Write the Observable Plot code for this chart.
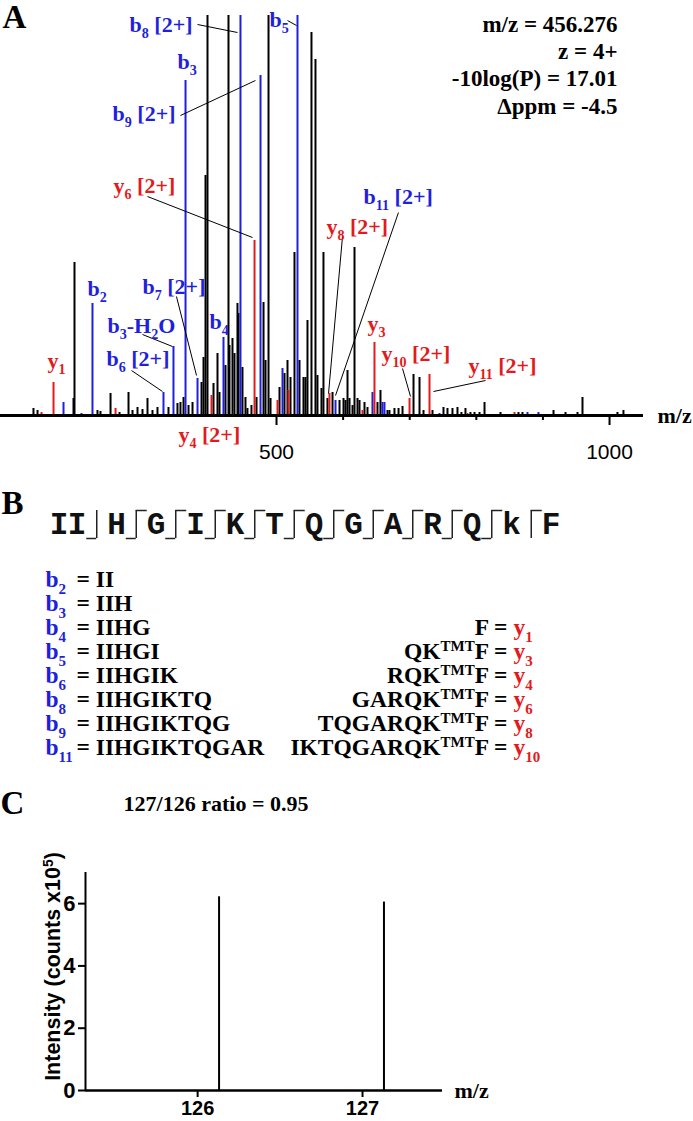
<!DOCTYPE html>
<html><head><meta charset="utf-8">
<script src="https://cdn.jsdelivr.net/npm/d3@7"></script>
<script src="https://cdn.jsdelivr.net/npm/@observablehq/plot@0.6"></script>
<style>
body{margin:0;background:#fff;}
#root{position:relative;width:693px;height:1121px;overflow:hidden;background:#fff;}
#root svg{position:absolute;left:0;overflow:visible;}
</style></head><body><div id="root"></div>
<script>
// ---------------- DATA ----------------
// Panel A: MS/MS spectrum (m/z, relative intensity %)
const otherMz = [135.1,141.2,195.2,196.7,231.2,235.7,250.8,264.3,277.8,283.8,291.3,298.8,306.3,313.8,321.3,337.8,351.3,355.8,360.4,367.9,373.9,387.4,390.4,393.4,396.4,405.4,411.4,414.4,423.4,427.9,429.4,433.9,436.9,441.4,442.9,448.9,453.4,456.4,462.4,470.0,480.5,483.5,488.0,491.0,504.5,512.0,516.5,521.0,527.0,534.5,540.5,543.5,546.5,552.5,558.5,561.5,567.5,570.5,576.5,584.1,594.6,600.6,603.6,606.6,609.6,614.1,617.1,621.6,624.6,632.1,636.6,651.6,656.1,666.6,669.6,677.1,683.2,689.2,705.7,714.7,720.7,734.2,750.7,756.7,764.2,771.7,777.7,783.7,791.2,797.3,804.8,812.3,836.3,863.3,869.3,915.9,933.9,951.9,959.4,1011.9,1020.9];
const otherInt = [1.75,1.25,4.25,38.25,1.25,1,5.5,0.75,5.75,1.25,2,1.5,4.25,1.25,2,2,3,3.25,4.5,2.5,3.25,8.25,14.5,60,100,8,15.5,5.75,12.5,100,17.5,19.25,15.5,28,25.5,12,4.5,1.75,2.5,4.5,28.25,13.75,100,4.25,7,10.5,13.75,9.5,40.75,13.75,9.5,9.5,23.75,95.75,89,10,6.75,40.75,4.25,5.75,3.75,4.25,3.75,11.25,4.25,2.5,42,4.25,3.75,3.25,2,3.25,6.25,1.25,1.25,1.75,1.75,2.25,10.25,9.5,1.25,1.25,2,1.75,1.75,2,0.75,1.75,0.75,0.75,0.75,3.25,0.75,0.75,0.75,1.25,0.75,0.75,4.5,0.75,1.25];
const bIonMz  = [180.2,207.2,223.7,330.3,345.3,363.4,381.4,420.4,445.9,476.0,509.0,531.5,588.6,644.1,659.1,662.1,744.7,876.8,893.3];
const bIonInt = [3.25,0.5,28,5.75,17.25,83.75,9.25,19.5,100,85,11.75,100,3.75,5.75,3.25,3.25,0.5,0.75,0.75];
const yIonMz  = [147.2,165.2,258.3,402.4,467.0,501.5,518.0,579.5,629.1,647.1,699.7,729.7,786.7,857.3];
const yIonInt = [0.75,8.25,1.75,5,43.75,3.75,6.25,5.5,1.25,18.25,4.25,10.25,0.5,0.75];
const precursorInfo = ["m/z = 456.276", "z = 4+", "-10log(P) = 17.01", "\u0394ppm = -4.5"];
const majorTicks = [500, 1000];
const minorTicks = [600, 700, 800, 900];

// Panel B: peptide and fragment assignments
const residues = ["I","I","H","G","I","K","T","Q","G","A","R","Q","k","F"];
const bSites = [2,3,4,5,6,7,8,9,10,11,12];
const ySites = [3,4,5,6,7,8,9,10,11,12,13];
const bIonNames = ["b_{2}","b_{3}","b_{4}","b_{5}","b_{6}","b_{8}","b_{9}","b_{11}"];
const bIonSeqs  = ["II","IIH","IIHG","IIHGI","IIHGIK","IIHGIKTQ","IIHGIKTQG","IIHGIKTQGAR"];
const yIonNames = ["y_{1}","y_{3}","y_{4}","y_{6}","y_{8}","y_{10}"];
const yIonSeqs  = ["F","QK^{TMT}F","RQK^{TMT}F","GARQK^{TMT}F","TQGARQK^{TMT}F","IKTQGARQK^{TMT}F"];

// Panel C: TMT reporter ions
const tmtMz  = [126.13, 127.13];
const tmtInt = [6.22, 6.05];
const tmtTicksX = [126, 127];
const tmtTicksY = [0, 2, 4, 6];
const tmtTitle = "127/126 ratio = 0.95";

// ---------------- STYLE ----------------
const BLUE = "#1f1fdc", RED = "#e31a1c";
const SERIF = "'Liberation Serif','Times New Roman',serif";
const SANS = "'Liberation Sans',Arial,sans-serif";
const MONO = "'Liberation Mono','Courier New',monospace";
const root = document.getElementById("root");

function richify(svg) {
  d3.select(svg).selectAll("text").each(function () {
    const s = this.textContent;
    if (!/[_^]\{/.test(s)) return;
    const fs = parseFloat(getComputedStyle(this).fontSize) || 20;
    const parts = s.split(/([_^]\{[^}]*\})/).filter(p => p !== "");
    const sel = d3.select(this);
    sel.text(null);
    let shift = 0;
    for (const p of parts) {
      const m = /^([_^])\{([^}]*)\}$/.exec(p);
      const target = m ? (m[1] === "_" ? 0.3 * fs : -0.32 * fs) : 0;
      const ts = sel.append("tspan").text(m ? m[2] : p);
      if (m) ts.attr("font-size", (0.64 * fs).toFixed(1));
      if (target - shift !== 0) ts.attr("dy", (target - shift).toFixed(1));
      shift = target;
    }
  });
}
function place(svg, top) { svg.style.top = top + "px"; root.appendChild(svg); richify(svg); }

// ---------------- PANEL A ----------------
const peaks = [
  ...otherMz.map((m, i) => ({mz: m, int: otherInt[i], ion: "other"})),
  ...bIonMz.map((m, i) => ({mz: m, int: bIonInt[i], ion: "b"})),
  ...yIonMz.map((m, i) => ({mz: m, int: yIonInt[i], ion: "y"}))
];
// annotation layout (anchor in data coordinates)
const ionLabels = [
  {t: "b_{8} [2+]", ion: "b", x: 279.3, y: 96},
  {t: "b_{5}", ion: "b", x: 489.5, y: 97.25},
  {t: "b_{3}", ion: "b", x: 351.3, y: 86.75},
  {t: "b_{9} [2+]", ion: "b", x: 253.8, y: 73.75},
  {t: "y_{6} [2+]", ion: "y", x: 255.3, y: 55.75},
  {t: "b_{11} [2+]", ion: "b", x: 630.6, y: 53},
  {t: "y_{8} [2+]", ion: "y", x: 575.0, y: 45.5},
  {t: "y_{3}", ion: "y", x: 636.6, y: 21.25},
  {t: "y_{10} [2+]", ion: "y", x: 657.6, y: 13.75},
  {t: "y_{11} [2+]", ion: "y", x: 788.2, y: 10.75},
  {t: "y_{1}", ion: "y", x: 156.2, y: 12},
  {t: "b_{2}", ion: "b", x: 216.2, y: 30},
  {t: "b_{7} [2+]", ion: "b", x: 298.8, y: 30.5},
  {t: "b_{3}-H_{2}O", ion: "b", x: 246.2, y: 20.75},
  {t: "b_{6} [2+]", ion: "b", x: 244.7, y: 12.5},
  {t: "b_{4}", ion: "b", x: 399.4, y: 21.75},
  {t: "y_{4} [2+]", ion: "y", x: 352.8, y: -6.5}
];
const leaders = [
  [381.4, 97.75, 441.4, 95.75], [516.5, 98.75, 530.0, 97.5], [355.8, 75, 468.4, 83.75],
  [306.3, 54.75, 464.0, 44.5], [683.1, 50.75, 588.6, 5], [599.1, 44.75, 578.1, 5.5],
  [689.2, 11.75, 701.2, 4.75], [813.8, 8.75, 735.7, 6], [349.8, 29.75, 379.9, 10],
  [298.8, 20.25, 343.8, 17.25], [282.3, 11.25, 328.8, 6]
];
const chartA = Plot.plot({
  width: 693, height: 460,
  marginLeft: 0, marginRight: 50, marginTop: 15, marginBottom: 45,
  style: {fontFamily: SANS, background: "transparent"},
  x: {domain: [85.6, 1051], label: null},
  y: {domain: [0, 100], axis: null},
  color: {domain: ["other", "b", "y"], range: ["#000000", BLUE, RED]},
  marks: [
    Plot.ruleX(peaks, {x: "mz", y1: 0, y2: d => Math.min(d.int, 100), stroke: "ion", strokeWidth: 2}),
    Plot.ruleY([0], {strokeWidth: 3}),
    Plot.axisX({ticks: majorTicks, tickSize: 10, tickPadding: 19, strokeWidth: 2, fontSize: 21, label: null, tickFormat: d => String(d)}),
    Plot.axisX({ticks: minorTicks, tickSize: 5, strokeWidth: 2, label: null, tickFormat: () => ""}),
    Plot.link(leaders, {x1: d => d[0], y1: d => d[1], x2: d => d[2], y2: d => d[3], stroke: "#000", strokeWidth: 1}),
    Plot.text(ionLabels, {x: "x", y: "y", text: "t", fill: "ion", textAnchor: "start", lineAnchor: "bottom",
      fontFamily: SERIF, fontWeight: "bold", fontSize: 22}),
    Plot.text([precursorInfo.join("\n")], {frameAnchor: "top-right", text: d => d, textAnchor: "end", lineAnchor: "top",
      lineHeight: 1.19, dx: -26, dy: -3.3, fontFamily: SERIF, fontWeight: "bold", fontSize: 23, fill: "#000"}),
    Plot.text(["m/z"], {frameAnchor: "bottom-right", text: d => d, textAnchor: "start", lineAnchor: "bottom",
      dx: 14, dy: 7, fontFamily: SERIF, fontWeight: "bold", fontSize: 22, fill: "#000"}),
    Plot.text(["A"], {frameAnchor: "top-left", text: d => d, textAnchor: "start", lineAnchor: "bottom",
      dx: 2, dy: 12, fontFamily: SERIF, fontWeight: "bold", fontSize: 33, fill: "#000"})
  ]
});
place(chartA, 0);

// ---------------- PANEL B ----------------
const B_TOP = 480, B_H = 300;
const X0 = 58.5, CH = 18, GAP = 21.5;
const resX = i => X0 + CH * i + GAP * Math.max(0, i - 1);
const siteX = n => (resX(n - 1) + resX(n)) / 2;
const SEQ_BASE = 533, MARK_TOP = 510, MARK_BOT = 538;
const ROW0 = 586, ROWH = 24;
const allSites = Array.from(new Set([...bSites, ...ySites])).sort((a, b) => a - b);
const chartB = Plot.plot({
  width: 693, height: B_H, margin: 0,
  style: {background: "transparent"},
  x: {domain: [0, 693], range: [0, 693], axis: null},
  y: {domain: [B_TOP, B_TOP + B_H], range: [0, B_H], axis: null},
  marks: [
    Plot.text(["B"], {x: 1, y: 513, text: d => d, textAnchor: "start", lineAnchor: "bottom",
      fontFamily: SERIF, fontWeight: "bold", fontSize: 33, fill: "#000"}),
    Plot.text(residues, {x: (d, i) => resX(i), y: SEQ_BASE, text: d => d, textAnchor: "middle", lineAnchor: "bottom",
      fontFamily: MONO, fontWeight: "bold", fontSize: 31, fill: "#111"}),
    Plot.ruleX(allSites, {x: siteX, y1: MARK_TOP, y2: MARK_BOT, stroke: "#222", strokeWidth: 1.5}),
    Plot.ruleY(bSites, {y: MARK_BOT, x1: n => siteX(n) - 10, x2: siteX, stroke: "#222", strokeWidth: 1.5}),
    Plot.ruleY(ySites, {y: MARK_TOP, x1: siteX, x2: n => siteX(n) + 11, stroke: "#222", strokeWidth: 1.5}),
    Plot.text(bIonNames, {x: 45, y: (d, i) => ROW0 + i * ROWH, text: d => d, fill: BLUE, textAnchor: "start", lineAnchor: "bottom",
      fontFamily: SERIF, fontWeight: "bold", fontSize: 23.5}),
    Plot.text(bIonSeqs, {x: 76, y: (d, i) => ROW0 + i * ROWH, text: d => "= " + d, fill: "#000", textAnchor: "start", lineAnchor: "bottom",
      fontFamily: SERIF, fontWeight: "bold", fontSize: 23.5}),
    Plot.text(yIonSeqs, {x: 507, y: (d, i) => ROW0 + (i + bIonNames.length - yIonSeqs.length) * ROWH, text: d => d + " =", fill: "#000",
      textAnchor: "end", lineAnchor: "bottom", fontFamily: SERIF, fontWeight: "bold", fontSize: 23.5}),
    Plot.text(yIonNames, {x: 513, y: (d, i) => ROW0 + (i + bIonNames.length - yIonNames.length) * ROWH, text: d => d, fill: RED,
      textAnchor: "start", lineAnchor: "bottom", fontFamily: SERIF, fontWeight: "bold", fontSize: 23.5})
  ]
});
place(chartB, B_TOP);

// ---------------- PANEL C ----------------
const chartC = Plot.plot({
  width: 693, height: 321,
  marginLeft: 85, marginRight: 251, marginTop: 72, marginBottom: 31,
  style: {fontFamily: SANS, background: "transparent"},
  x: {domain: [125.32, 127.485], label: null},
  y: {domain: [0, 7], label: null},
  marks: [
    Plot.ruleX(tmtMz, {x: d => d, y1: 0, y2: (d, i) => tmtInt[i], strokeWidth: 2}),
    Plot.ruleX([125.32], {y1: 0, y2: 7, strokeWidth: 2}),
    Plot.ruleY([0], {strokeWidth: 2.5}),
    Plot.axisY({ticks: tmtTicksY, tickSize: 7, tickPadding: 3, strokeWidth: 2, fontSize: 22, fontWeight: "bold", label: null, tickFormat: d => String(d)}),
    Plot.axisX({ticks: tmtTicksX, tickSize: 7, tickPadding: 3, strokeWidth: 2, fontSize: 20, fontWeight: "bold", label: null, tickFormat: d => String(d)}),
    Plot.text(["Intensity (counts x10^{5})"], {frameAnchor: "left", text: d => d, rotate: -90, textAnchor: "middle", lineAnchor: "middle",
      dx: -32, dy: -15, fontFamily: SANS, fontWeight: "bold", fontSize: 21.5, fill: "#000"}),
    Plot.text([tmtTitle], {frameAnchor: "top", text: d => d, textAnchor: "middle", lineAnchor: "bottom",
      dx: -48, dy: -62, fontFamily: SERIF, fontWeight: "bold", fontSize: 22, fill: "#000"}),
    Plot.text(["m/z"], {frameAnchor: "bottom-right", text: d => d, textAnchor: "start", lineAnchor: "bottom",
      dx: 12, dy: 7, fontFamily: SERIF, fontWeight: "bold", fontSize: 22, fill: "#000"}),
    Plot.text(["C"], {frameAnchor: "top-left", text: d => d, textAnchor: "start", lineAnchor: "bottom",
      dx: -85, dy: -59, fontFamily: SERIF, fontWeight: "bold", fontSize: 33, fill: "#000"})
  ]
});
place(chartC, 800);
d3.select(chartC).selectAll('g[aria-label$="tick label"] text').attr("font-weight", "bold");
</script></body></html>
